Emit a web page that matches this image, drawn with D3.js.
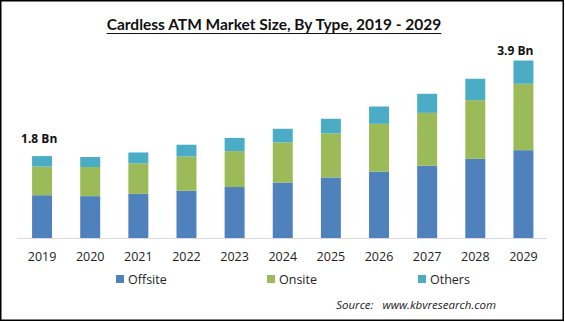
<!DOCTYPE html>
<html>
<head>
<meta charset="utf-8">
<script src="https://cdn.jsdelivr.net/npm/d3@7"></script>
<style>
  html, body { margin: 0; padding: 0; background: #fff; }
  svg { display: block; }
</style>
</head>
<body>
<div id="chart"></div>
<script>
// Cardless ATM market size by type, USD billion
const years = ['2019', '2020', '2021', '2022', '2023', '2024', '2025', '2026', '2027', '2028', '2029'];
const offsite = [0.94, 0.92, 0.97, 1.04, 1.12, 1.22, 1.33, 1.46, 1.59, 1.74, 1.93];
const onsite  = [0.63, 0.64, 0.67, 0.75, 0.79, 0.88, 0.97, 1.05, 1.16, 1.29, 1.46];
const others  = [0.23, 0.22, 0.24, 0.26, 0.29, 0.30, 0.32, 0.38, 0.42, 0.47, 0.51];
const seriesNames = ['Offsite', 'Onsite', 'Others'];
const callouts = [{ year: '2019', text: '1.8 Bn' }, { year: '2029', text: '3.9 Bn' }];

const colors = { Offsite: '#4f81bd', Onsite: '#9bbb59', Others: '#4bacc6' };

const width = 565, height = 322;
const baseY = 238;

const svg = d3.select('#chart').append('svg')
  .attr('width', width)
  .attr('height', height);

svg.append('rect')
  .attr('x', 0.75).attr('y', 0.75)
  .attr('width', width - 2.5).attr('height', height - 2.5)
  .attr('fill', '#fff')
  .attr('stroke', '#000')
  .attr('stroke-width', 1.5);

// title with underline
const title = svg.append('text')
  .attr('x', 274).attr('y', 30)
  .attr('text-anchor', 'middle')
  .attr('font-family', 'Lato, sans-serif')
  .attr('font-weight', 'bold')
  .attr('font-size', 15.5)
  .attr('fill', '#111')
  .text('Cardless ATM Market Size, By Type, 2019 - 2029');
const tb = title.node().getBBox();
svg.append('line')
  .attr('x1', tb.x).attr('x2', tb.x + tb.width)
  .attr('y1', 33.5).attr('y2', 33.5)
  .attr('stroke', '#111').attr('stroke-width', 1.2);

const table = years.map((y, i) => ({ year: y, Offsite: offsite[i], Onsite: onsite[i], Others: others[i] }));
const stacked = d3.stack().keys(seriesNames)(table);

const x = d3.scaleBand()
  .domain(years)
  .range([18, 547.5])
  .paddingInner(0.585)
  .paddingOuter(0.2925);

const y = d3.scaleLinear()
  .domain([0, 4])
  .range([baseY, baseY - 4 * 45.5]);

svg.append('g')
  .selectAll('g')
  .data(stacked)
  .join('g')
  .attr('fill', d => colors[d.key])
  .selectAll('rect')
  .data(d => d)
  .join('rect')
  .attr('x', d => x(d.data.year))
  .attr('width', x.bandwidth())
  .attr('y', d => y(d[1]))
  .attr('height', d => y(d[0]) - y(d[1]));

// baseline
svg.append('line')
  .attr('x1', 17).attr('x2', 547)
  .attr('y1', baseY + 0.5).attr('y2', baseY + 0.5)
  .attr('stroke', '#d9d9d9').attr('stroke-width', 1);

// year labels
const xAxis = svg.append('g')
  .attr('transform', `translate(0,${baseY})`)
  .call(d3.axisBottom(x).tickSize(0).tickPadding(14));
xAxis.select('.domain').remove();
xAxis.selectAll('text')
  .attr('font-family', 'Open Sans, sans-serif')
  .attr('font-size', 12.5)
  .attr('fill', '#222');

// total callouts: first one sits left-aligned above its bar, last one right-aligned just above
const totals = new Map(table.map(d => [d.year, d.Offsite + d.Onsite + d.Others]));
svg.append('g')
  .selectAll('text')
  .data(callouts)
  .join('text')
  .attr('x', (d, i) => i === 0 ? x(d.year) - 11 : x(d.year) + x.bandwidth())
  .attr('y', (d, i) => y(totals.get(d.year)) - (i === 0 ? 13 : 6))
  .attr('text-anchor', (d, i) => i === 0 ? 'start' : 'end')
  .attr('font-family', 'Open Sans, sans-serif')
  .attr('font-weight', 'bold')
  .attr('font-size', 12)
  .attr('fill', '#111')
  .text(d => d.text);

// legend
const legendX = [116, 267, 418];
const legend = svg.append('g')
  .selectAll('g')
  .data(seriesNames)
  .join('g')
  .attr('transform', (d, i) => `translate(${legendX[i]},275)`);
legend.append('rect')
  .attr('width', 8).attr('height', 8)
  .attr('fill', d => colors[d]);
legend.append('text')
  .attr('x', 12).attr('y', 8.5)
  .attr('font-family', 'Open Sans, sans-serif')
  .attr('font-size', 12.5)
  .attr('fill', '#222')
  .text(d => d);

svg.append('text')
  .attr('x', 496).attr('y', 308.5)
  .attr('text-anchor', 'end')
  .attr('font-family', 'Open Sans, sans-serif')
  .attr('font-style', 'italic')
  .attr('font-size', 11.5)
  .attr('fill', '#222')
  .attr('xml:space', 'preserve')
  .text('Source:   www.kbvresearch.com');
</script>
</body>
</html>
